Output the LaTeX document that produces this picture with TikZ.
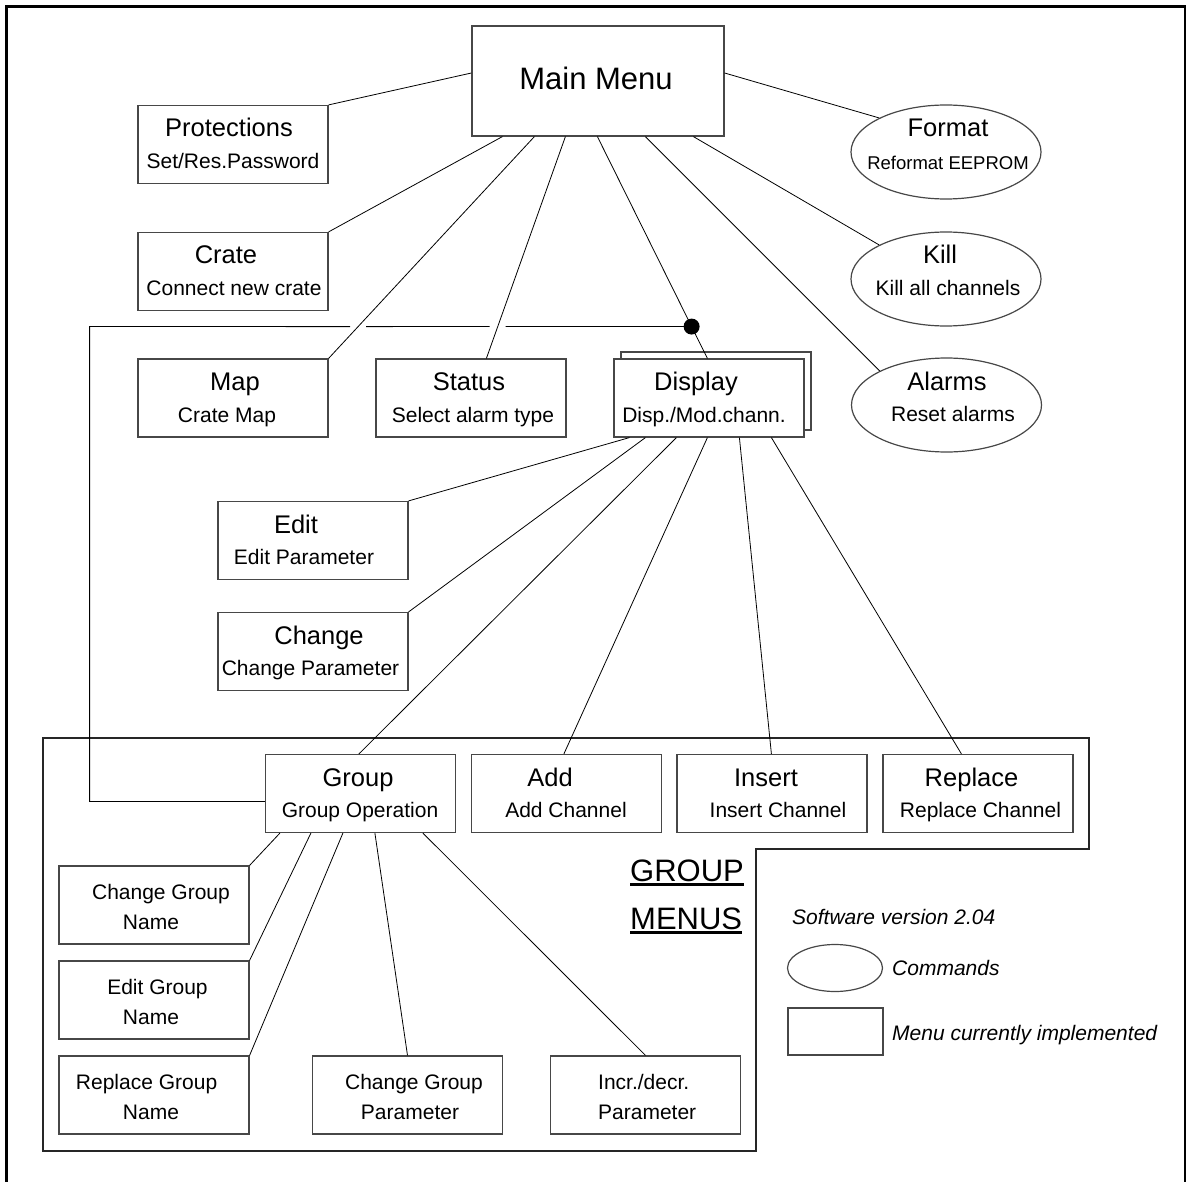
\documentclass[tikz,border=0pt]{standalone}
\usepackage{fontspec}
\setmainfont{Liberation Sans}
\usetikzlibrary{calc,shapes.geometric}
\begin{document}
\begin{tikzpicture}[x=1pt,y=-1pt,
  box/.style={draw=black!72, line width=1.2pt, rectangle, minimum width=190, minimum height=78, inner sep=0, fill=white},
  cmd/.style={draw=black!72, line width=1.2pt, ellipse, minimum width=190, minimum height=94, inner sep=0},
  conn/.style={draw=black, line width=0.8pt},
  big/.style={anchor=base, inner sep=0, font=\fontsize{31}{36}\selectfont},
  ttl/.style={anchor=base, inner sep=0, font=\fontsize{25.5}{30}\selectfont},
  sub/.style={anchor=base, inner sep=0, font=\fontsize{21}{25}\selectfont},
  small/.style={anchor=base, inner sep=0, font=\fontsize{18.5}{22}\selectfont},
  legtxt/.style={anchor=base west, inner sep=0, font=\fontsize{21}{25}\selectfont\itshape}]
\useasboundingbox (0,0) rectangle (1188,1182);
% frame
\draw[line width=2.5pt] (6.5,1182) -- (6.5,6.5) -- (1185,6.5) -- (1185,1182);
% group menus outline
\draw[line width=1.2pt, black!85] (43,738) -- (1089,738) -- (1089,849) -- (756,849) -- (756,1151) -- (43,1151) -- cycle;

% main menu
\node[box, minimum width=252, minimum height=110] (mm) at (598,81) {};
\node[big] (tmm) at (596,89.3) {Main Menu};

% left column
\node[box] (prot) at (233,144.5) {};
\node[ttl] (tprot) at (229,136.7) {Protections};
\node[sub] (sprot) at (233,168.3) {Set/Res.Password};
\node[box] (crate) at (233,271.5) {};
\node[ttl] (tcrate) at (226,263.5) {Crate};
\node[sub] (scrate) at (234,295) {Connect new crate};
\node[box] (map) at (233,398) {};
\node[ttl] (tmap) at (235,390.5) {Map};
\node[sub] (smap) at (227,422) {Crate Map};
\node[box] (status) at (471,398) {};
\node[ttl] (tstatus) at (469,390.5) {Status};
\node[sub] (sstatus) at (473,422) {Select alarm type};
\node[box] (dispb) at (716,391) {};
\node[box] (disp) at (709,398) {};
\node[ttl] (tdisp) at (696,390.5) {Display};
\node[sub] (sdisp) at (704,422) {Disp./Mod.chann.};

% commands
\node[cmd] (fmt) at (946,152) {};
\node[ttl] (tfmt) at (948,136.7) {Format};
\node[small] (sfmt) at (948,169.3) {Reformat EEPROM};
\node[cmd] (kill) at (946,279) {};
\node[ttl] (tkill) at (940,263.3) {Kill};
\node[sub] (skill) at (948,295) {Kill all channels};
\node[cmd] (alarms) at (946.5,405) {};
\node[ttl] (talarms) at (947,390) {Alarms};
\node[sub] (salarms) at (953,421.7) {Reset alarms};

% display submenus
\node[box] (edit) at (313,540.5) {};
\node[ttl] (tedit) at (296,533) {Edit};
\node[sub] (sedit) at (304,564.5) {Edit Parameter};
\node[box] (change) at (313,651.5) {};
\node[ttl] (tchange) at (319,644) {Change};
\node[sub] (schange) at (310.5,675.5) {Change Parameter};
\node[box] (group) at (360.5,793.5) {};
\node[ttl] (tgroup) at (358,786.7) {Group};
\node[sub] (sgroup) at (360,817.5) {Group Operation};
\node[box] (add) at (566.5,793.5) {};
\node[ttl] (tadd) at (550,786.7) {Add};
\node[sub] (sadd) at (566,817.5) {Add Channel};
\node[box] (insert) at (772,793.5) {};
\node[ttl] (tinsert) at (766,786.7) {Insert};
\node[sub] (sinsert) at (778,817.5) {Insert Channel};
\node[box] (replace) at (978,793.5) {};
\node[ttl] (treplace) at (971.5,786.7) {Replace};
\node[sub] (sreplace) at (980.5,817.5) {Replace Channel};

% group submenus
\node[box] (cgn) at (154,905) {};
\node[sub] (tcgn) at (161,899) {Change Group};
\node[sub] (scgn) at (151,929) {Name};
\node[box] (egn) at (154,1000) {};
\node[sub] (tegn) at (157.5,994) {Edit Group};
\node[sub] (segn) at (151,1024) {Name};
\node[box] (rgn) at (154,1095) {};
\node[sub] (trgn) at (146.6,1089) {Replace Group};
\node[sub] (srgn) at (151,1119) {Name};
\node[box] (cgp) at (407.5,1095) {};
\node[sub] (tcgp) at (414,1089) {Change Group};
\node[sub] (scgp) at (410,1119) {Parameter};
\node[box] (incr) at (645.5,1095) {};
\node[sub, anchor=base west] (tincr) at (598,1089) {Incr./decr.};
\node[sub, anchor=base west] (sincr) at (598,1119) {Parameter};

% GROUP MENUS label
\node[big, anchor=base west] (grp) at (630,881.7) {GROUP};
\node[big, anchor=base west] (mns) at (630,929.3) {MENUS};
\draw[line width=2.5pt] ($(grp.base west)+(0,3)$) -- ($(grp.base east)+(0,3)$);
\draw[line width=2.5pt] ($(mns.base west)+(0,3)$) -- ($(mns.base east)+(0,3)$);

% legend
\node[legtxt] (ver) at (792,924) {Software version 2.04};
\node[cmd, minimum width=95, minimum height=47] (lgell) at (835,968) {};
\node[legtxt] (lgcmd) at (892,975.7) {Commands};
\node[box, minimum width=95, minimum height=47] (lgbox) at (835.5,1031.5) {};
\node[legtxt] (lgmenu) at (892,1040) {Menu currently implemented};

% connectors from main menu
\draw[conn] ($(mm.west)+(0,-8)$) -- (prot.north east);
\draw[conn] ($(mm.south west)+(31,0)$) -- (crate.north east);
\coordinate (mmA) at ($(mm.south west)+(63,0)$);
\coordinate (mapT) at (map.north east);
\draw[conn] (mmA) -- (mapT);
\coordinate (mmB) at ($(mm.south west)+(94,0)$);
\coordinate (statT) at ($(status.north west)+(111,0)$);
\draw[conn] (mmB) -- (statT);
\coordinate (mmD) at ($(mm.south west)+(126,0)$);
\coordinate (dispT) at ($(disp.north west)+(94,0)$);
\draw[conn] (mmD) -- (dispT);
\draw[conn] ($(mm.south west)+(174,0)$) -- (alarms.153);
\draw[conn] ($(mm.south west)+(222,0)$) -- (kill.153);
\draw[conn] ($(mm.east)+(0,-8)$) -- (fmt.153);

% dot and group back-link
\node[circle, fill=black, inner sep=0, minimum size=16] (dot) at ($(mmD)!0.8565!(dispT)$) {};
\coordinate (bl) at ($(dot.center)+(-602,0)$);
\coordinate (gl) at ($(group.west)+(0,8)$);
\coordinate (bb) at (bl |- gl);
\coordinate (c1) at (intersection of mmA--mapT and dot--bl);
\coordinate (c2) at (intersection of mmB--statT and dot--bl);
\draw[conn] (dot.center) -- ($(c2)+(8,0)$);
\draw[conn] ($(c2)+(-8,0)$) -- ($(c1)+(8,0)$);
\draw[conn] ($(c1)+(-8,0)$) -- (bl) -- (bb) -- (gl);

% connectors from display
\draw[conn] ($(disp.south west)+(16,0)$) -- (edit.north east);
\draw[conn] ($(disp.south west)+(32,0)$) -- (change.north east);
\draw[conn] ($(disp.south west)+(63,0)$) -- ($(group.north west)+(94,0)$);
\draw[conn] ($(disp.south west)+(94,0)$) -- ($(add.north west)+(93,0)$);
\draw[conn] ($(disp.south west)+(126,0)$) -- ($(insert.north west)+(95,0)$);
\draw[conn] ($(disp.south west)+(158,0)$) -- ($(replace.north west)+(79,0)$);

% connectors from group
\draw[conn] ($(group.south west)+(15,0)$) -- (cgn.north east);
\draw[conn] ($(group.south west)+(46,0)$) -- (egn.north east);
\draw[conn] ($(group.south west)+(78,0)$) -- (rgn.north east);
\draw[conn] ($(group.south west)+(110,0)$) -- (cgp.north);
\draw[conn] ($(group.south west)+(158,0)$) -- (incr.north);
\end{tikzpicture}
\end{document}
